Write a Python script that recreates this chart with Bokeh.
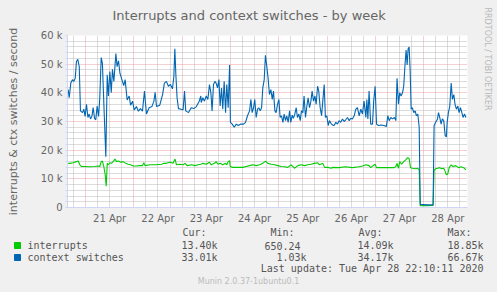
from bokeh.plotting import figure
from bokeh.models import FixedTicker, Range1d, Title
from bokeh.layouts import column, row
from bokeh.embed import file_html
from bokeh.resources import INLINE
from bokeh.core.properties import value

TITLE = "Interrupts and context switches - by week"
Y_LABEL = "interrupts & ctx switches / second"

# time axis: hours since 2020-04-20 00:00 ; values in thousands / second
ctx_hours = [15.4, 15.9, 16.7, 17.5, 18.2, 18.9, 19.5, 20.2, 20.9, 21.5, 22.5, 23.2, 23.8, 24.5, 25.2, 25.8,
             26.5, 27.2, 27.8, 28.5, 29.1, 29.8, 30.5, 31.1, 31.8, 32.4, 33.1, 34.1, 34.8, 35.4, 36.1, 36.8,
             37.4, 38.1, 39.1, 39.7, 40.4, 41.1, 42.1, 43.0, 43.7, 44.7, 45.7, 46.4, 47.4, 48.2, 49.3, 50.3,
             51.3, 52.3, 53.3, 54.3, 55.6, 57.0, 58.0, 58.6, 59.3, 60.9, 62.3, 63.2, 64.2, 65.2, 66.2, 67.2,
             67.9, 68.4, 68.9, 69.5, 70.2, 71.5, 72.5, 73.2, 73.8, 75.2, 76.5, 77.8, 79.1, 80.5, 81.3,
             81.5, 82.3, 83.1, 84.0, 84.8, 85.6, 86.3, 86.9, 87.6, 88.3, 88.9, 89.6, 90.3, 90.9, 91.6, 92.2,
             92.9, 93.6, 94.2, 94.9, 95.6, 96.0, 96.9, 97.9, 98.9, 99.9, 101.2, 102.5, 103.5, 104.5, 105.5,
             106.2, 106.8, 107.5, 108.1, 108.8, 109.5, 110.1, 110.8, 111.5, 112.1, 112.8, 113.4, 114.1, 114.8,
             115.4, 116.1, 116.8, 117.4, 118.1, 118.7, 119.4, 120.1, 120.7, 121.4, 122.1, 122.7, 123.4, 124.0,
             124.7, 125.4, 126.0, 126.7, 127.3, 128.0, 128.7, 129.3, 130.0, 130.7, 131.3, 132.0, 132.6, 133.3,
             134.0, 134.6, 135.3, 136.0, 136.6, 137.3, 138.0, 138.6, 139.3, 139.9, 140.6, 141.3, 141.9, 142.6,
             143.2, 143.9, 144.6, 145.2, 146.2, 147.2,
             147.5, 148.4, 149.2, 150.0, 150.8, 151.7, 152.5, 153.3, 154.2, 155.0, 155.8, 156.6, 157.5, 158.3,
             159.1, 160.0, 160.8, 161.6, 162.4, 163.3, 163.8, 164.3, 164.9, 165.7, 166.6, 167.2, 167.9, 168.6,
             169.6, 170.9, 172.2, 173.5, 174.2, 174.9, 175.7, 176.5, 177.5, 178.2, 178.8, 179.5, 180.1, 180.8,
             181.5, 182.1, 182.8, 183.3, 183.8, 184.3, 184.8, 185.3, 185.8, 186.4, 187.1, 187.8, 188.4, 189.1,
             189.8, 190.3, 193.4, 196.7, 197.2, 198.0, 198.9, 199.4, 200.0, 200.7, 201.3, 202.0, 202.7, 203.3,
             203.7, 204.3, 205.0, 205.7, 206.3, 207.0, 207.6, 208.3, 209.0, 209.6, 210.3, 211.0, 211.6, 212.3,
             213.0]
ctx_k = [41.1, 38.3, 43.4, 44.6, 44.0, 45.1, 50.9, 51.7, 49.1, 33.7, 33.1, 34.3, 31.8, 36.0, 31.4, 32.6,
         30.9, 31.8, 34.9, 31.1, 30.6, 35.4, 31.8, 38.3, 52.3, 50.3, 36.6, 17.7, 46.3, 38.9, 47.4, 40.0,
         48.2, 44.0, 53.7, 49.1, 51.2, 46.9, 44.6, 42.5, 44.6, 37.5, 38.9, 35.7, 37.1, 34.0, 35.2, 33.6,
         34.5, 33.6, 40.6, 32.6, 34.8, 35.2, 37.1, 40.2, 35.2, 35.7, 39.4, 43.4, 44.0, 42.3, 42.9, 41.4,
         45.7, 55.4, 46.3, 38.3, 34.5, 34.3, 34.1, 40.6, 33.7, 33.1, 34.8, 34.5, 35.2, 37.1, 38.9,
         36.6, 38.3, 37.1, 38.9, 37.7, 42.9, 40.0, 33.7, 42.9, 44.0, 43.4, 41.7, 44.6, 35.4, 41.7, 34.3,
         44.0, 33.1, 42.9, 34.8, 49.7, 29.7, 29.1, 28.0, 29.1, 28.6, 29.1, 29.1, 29.7, 32.0, 33.7,
         37.7, 33.1, 34.8, 37.7, 31.4, 34.3, 34.8, 33.7, 34.8, 41.7, 44.6, 53.1, 49.1, 44.6,
         39.4, 41.1, 37.7, 40.6, 33.7, 33.1, 36.0, 37.7, 31.4, 32.0, 29.7, 32.6, 30.3, 32.0,
         29.7, 33.7, 29.7, 32.2, 31.1, 32.6, 34.8, 31.4, 32.6, 30.3, 33.7, 33.1, 38.9, 31.4,
         35.4, 38.3, 34.8, 37.1, 40.6, 37.1, 38.9, 36.0, 42.3, 40.6, 34.8, 32.0, 37.1, 42.9,
         31.4, 32.0, 28.6, 30.3, 29.1, 28.6,
         28.6, 29.7, 29.1, 30.3, 29.7, 30.9, 30.0, 30.6, 31.4, 30.3, 31.1, 30.9, 32.0, 34.3,
         34.8, 32.0, 34.3, 32.6, 37.1, 31.4, 37.7, 30.9, 40.6, 29.1, 29.1, 37.1, 42.3, 29.1,
         28.6, 28.8, 28.6, 28.3, 32.0, 30.3, 31.4, 30.9, 31.4, 30.3, 45.1, 36.0, 40.0, 38.9,
         40.0, 42.3, 50.3, 54.9, 49.7, 55.4, 56.0, 48.0, 34.3, 34.8, 33.1, 33.7, 32.0, 32.6,
         28.0, 1.1, 0.9, 0.9, 28.6, 29.7, 30.9, 33.1, 31.4, 29.1, 30.9, 30.3, 25.1, 24.6,
         29.7, 33.1, 35.4, 43.4, 37.7, 39.4, 36.0, 34.3, 35.4, 33.1, 34.8, 33.1, 31.4, 32.6,
         31.4]

irq_hours = [15.4, 16.2, 17.9, 19.5, 20.4, 21.2, 22.0, 23.7, 26.2, 28.6, 30.3, 31.1, 31.8, 32.4, 33.1, 33.8,
             34.3, 34.8, 35.4, 36.1, 36.9, 37.7, 38.7, 39.4, 40.4, 41.4, 42.7, 44.0, 45.2, 46.4, 47.7, 49.3,
             51.0, 52.3, 53.0, 53.6, 56.0, 59.3, 61.8, 62.9, 64.2, 65.9, 67.5, 68.5, 69.2, 70.9, 72.5, 73.5,
             74.5, 76.7, 78.3, 80.0, 81.3,
             82.3, 84.0, 85.6, 86.4, 88.1, 88.9, 89.8, 90.9, 92.2, 93.6, 94.2, 94.9, 95.6, 95.9, 97.2, 98.9,
             100.5, 102.2, 103.8, 105.5, 107.1, 108.8, 110.5, 112.1, 113.4, 114.6, 116.3, 117.9, 119.6, 121.2,
             122.9, 124.5, 126.2, 127.8, 129.5, 131.2, 132.8, 134.5, 136.1, 137.8, 139.4, 140.3, 141.9, 142.8,
             144.4, 146.1,
             146.7, 150.0, 153.3, 156.6, 159.9, 161.6, 163.3, 164.9, 165.7, 166.9, 167.9, 168.6, 171.5, 174.9,
             177.3, 178.2, 178.8, 179.5, 180.1, 181.1, 182.1, 183.1, 184.1, 184.8, 185.5, 186.4, 188.1, 189.1,
             189.8, 190.3, 193.4, 196.7, 197.2, 198.0, 199.0, 200.0, 201.0, 202.0, 202.7, 203.3, 204.0, 204.7,
             205.7, 206.6, 208.0, 209.3, 210.6, 211.9, 213.0]
irq_k = [15.4, 15.4, 15.6, 16.0, 16.2, 14.9, 14.3, 14.3, 14.2, 14.3, 14.5, 14.3, 16.0, 16.2, 14.3, 11.4,
         7.4, 15.4, 14.9, 15.6, 15.4, 16.0, 16.9, 16.0, 16.2, 15.8, 16.0, 15.4, 15.1, 14.9, 14.5, 14.5,
         14.6, 14.6, 15.6, 14.6, 14.9, 14.9, 15.1, 15.4, 15.4, 15.8, 15.4, 16.9, 14.9, 15.1, 14.9, 15.4,
         14.6, 14.9, 14.6, 14.9, 15.1,
         15.4, 15.1, 15.8, 14.9, 15.4, 16.0, 15.1, 15.4, 14.9, 15.4, 14.9, 16.0, 16.3, 14.3, 14.0, 14.0,
         14.0, 14.0, 14.3, 14.6, 14.9, 14.6, 14.9, 15.4, 16.2, 15.4, 15.1, 14.9, 14.6, 14.3,
         14.2, 14.0, 14.9, 13.7, 14.6, 14.9, 14.6, 14.9, 15.1, 15.4, 15.6, 14.9, 15.4, 14.0,
         14.0, 13.7,
         14.0, 13.9, 14.2, 13.9, 14.2, 14.5, 14.9, 14.6, 13.9, 14.6, 15.1, 13.9, 13.9, 13.9,
         13.9, 14.3, 15.4, 13.7, 16.0, 15.1, 16.0, 16.6, 17.4, 17.1, 13.9, 13.7, 13.5, 13.7,
         13.1, 0.6, 0.65, 0.7, 13.1, 13.5, 13.7, 13.9, 13.5, 13.7, 12.6, 11.4, 11.7, 13.9,
         14.9, 14.3, 14.6, 13.9, 14.2, 13.9, 13.1]

day_labels = ["21 Apr", "22 Apr", "23 Apr", "24 Apr", "25 Apr", "26 Apr", "27 Apr", "28 Apr"]
day_label_hours = [36, 60, 84, 108, 132, 156, 180, 204]
y_ticks = [0, 10, 20, 30, 40, 50, 60]
y_tick_labels = ["0", "10 k", "20 k", "30 k", "40 k", "50 k", "60 k"]

series_names = ["interrupts", "context switches"]
series_colors = ["#00CC00", "#0066B3"]
stat_headers = ["Cur:", "Min:", "Avg:", "Max:"]
irq_stats = ["13.40k", "650.24", "14.09k", "18.85k"]
ctx_stats = ["33.01k", "1.03k", "34.17k", "66.67k"]
last_update = "Last update: Tue Apr 28 22:10:11 2020"
footer = "Munin 2.0.37-1ubuntu0.1"
watermark = "RRDTOOL / TOBI OETIKER"

# ---------------- layout ----------------
W, H = 497, 292
MAIN_W, MAIN_H = 477, 226          # main chart block
FL, FR, FT, FB = 67, 467, 33, 208  # plot frame edges in page pixels
BG = "#F0F0F0"
FONT_COLOR = "#666666"
LEGEND_COLOR = "#555555"

p = figure(width=MAIN_W, height=MAIN_H, output_backend="svg", toolbar_location=None, title=None,
           x_range=Range1d(15.06, 213.8), y_range=Range1d(0, 60),
           min_border_left=FL, min_border_right=MAIN_W - FR, min_border_top=FT,
           min_border_bottom=MAIN_H - FB)
p.background_fill_color = "#FFFFFF"
p.border_fill_color = BG
p.outline_line_color = None

# a thin spacer title keeps the real title a few pixels higher, like rrdtool
p.add_layout(Title(text=" ", text_font_size="6px", standoff=0), "above")
p.add_layout(Title(text=TITLE, text_font="DejaVu Sans", text_font_size="13px", text_font_style="normal",
                   text_color=FONT_COLOR, align="left", offset=45), "above")

for ax in (p.xaxis[0], p.yaxis[0]):
    ax.axis_line_color = "#CFD6F8"
    ax.major_label_text_font = "DejaVu Sans"
    ax.major_label_text_font_size = "10px"
    ax.major_label_text_color = FONT_COLOR

minor_y = [v for v in range(0, 61, 2) if v % 10]
p.yaxis.ticker = FixedTicker(ticks=y_ticks, minor_ticks=minor_y)
p.yaxis.major_label_overrides = {t: s for t, s in zip(y_ticks, y_tick_labels)}
p.yaxis.major_tick_out = 2
p.yaxis.major_tick_in = 0
p.yaxis.minor_tick_out = 2
p.yaxis.minor_tick_in = 0
p.yaxis.major_tick_line_color = "#CFD6F8"
p.yaxis.minor_tick_line_color = "#CFD6F8"
p.yaxis.major_label_standoff = 3
p.yaxis.axis_label = Y_LABEL
p.yaxis.axis_label_text_font = "DejaVu Sans"
p.yaxis.axis_label_text_font_size = "11px"
p.yaxis.axis_label_text_font_style = "normal"
p.yaxis.axis_label_text_color = FONT_COLOR
p.yaxis.axis_label_standoff = 18

p.xaxis.ticker = FixedTicker(ticks=day_label_hours, minor_ticks=[])
p.xaxis.major_label_overrides = {t: s for t, s in zip(day_label_hours, day_labels)}
p.xaxis.major_tick_line_color = None
p.xaxis.minor_tick_line_color = None
p.xaxis.major_tick_out = 0
p.xaxis.major_tick_in = 0
p.xaxis.minor_tick_out = 0
p.xaxis.major_label_standoff = 5

midnights = list(range(24, 214, 24))
six_hours = [h for h in range(18, 214, 6) if h % 24]
p.xgrid.ticker = FixedTicker(ticks=midnights, minor_ticks=six_hours)
p.ygrid.ticker = FixedTicker(ticks=y_ticks, minor_ticks=minor_y)
for g in (p.xgrid[0], p.ygrid[0]):
    g.grid_line_color = "#E8A0A0"
    g.grid_line_dash = "1 1"
    g.grid_line_width = 1
    g.minor_grid_line_color = "#B8B8B8"
    g.minor_grid_line_dash = "1 1"
    g.minor_grid_line_width = 1

p.line(irq_hours, irq_k, line_color=series_colors[0], line_width=1.1)
p.line(ctx_hours, ctx_k, line_color=series_colors[1], line_width=1.1)

# right strip carrying the rrdtool credit as a vertical title
# (its frame is aligned with the main frame, so the offset reaches up into the top border)
side = figure(width=W - MAIN_W, height=MAIN_H, output_backend="svg", toolbar_location=None, title=None,
              x_range=Range1d(0, 1), y_range=Range1d(0, 1),
              min_border=0, min_border_left=0, min_border_right=15, min_border_top=0, min_border_bottom=0)
side.axis.visible = False
side.grid.visible = False
side.outline_line_color = None
side.background_fill_color = BG
side.border_fill_color = BG
side.add_layout(Title(text=watermark, text_font="DejaVu Sans", text_font_size="8px", text_font_style="normal",
                      text_color="#B8B8B8", align="left", offset=5 - FT, standoff=0), "right")

# legend block (pixel coordinates, y downward)
leg = figure(width=W, height=H - MAIN_H, output_backend="svg", toolbar_location=None,
             x_range=Range1d(0, W), y_range=Range1d(H, MAIN_H),
             min_border=0, min_border_left=0, min_border_right=0, min_border_top=0, min_border_bottom=0)
leg.axis.visible = False
leg.grid.visible = False
leg.outline_line_color = None
leg.background_fill_color = BG
leg.border_fill_color = BG

mono = dict(text_font=value("DejaVu Sans Mono"), text_font_size=value("10px"),
            text_color=LEGEND_COLOR, text_baseline="middle")

header_x = [182, 270, 358, 447]
value_right = [217, 306, 393, 483]
rows_y = [245, 257]
leg.text(x=header_x, y=[232] * 4, text=stat_headers, text_align="left", **mono)
leg.rect(x=[17, 17], y=rows_y, width=6, height=6, fill_color=series_colors, line_color=series_colors)
leg.text(x=[27, 27], y=rows_y, text=series_names, text_align="left", **mono)
for stats, y in zip([irq_stats, ctx_stats], rows_y):
    xs = [xr - (0 if s.endswith("k") else 6) for s, xr in zip(stats, value_right)]
    leg.text(x=xs, y=[y] * 4, text=stats, text_align="right", **mono)
leg.text(x=[483], y=[268], text=[last_update], text_align="right", **mono)
leg.text(x=[248], y=[281], text=[footer], text_align="center", text_baseline="middle",
         text_font=value("DejaVu Sans"), text_font_size=value("8px"), text_color="#BBBBBB")

layout = column(row(p, side, spacing=0), leg, spacing=0)
layout.styles = {"background-color": BG}

open("out.html", "w").write(file_html(layout, INLINE))
